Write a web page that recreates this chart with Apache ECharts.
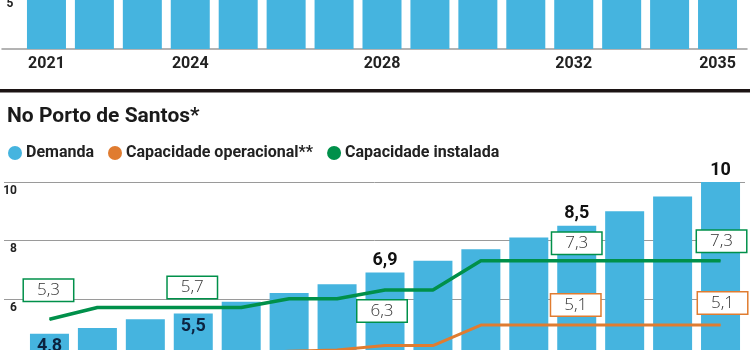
<!DOCTYPE html>
<html>
<head>
<meta charset="utf-8">
<script src="https://cdn.jsdelivr.net/npm/echarts@6/dist/echarts.min.js"></script>
<style>
  html, body { margin: 0; padding: 0; background: #fff; }
  #chart { width: 750px; height: 350px; }
</style>
</head>
<body>
<div id="chart"></div>
<script>
// dados (milhões de TEU)
const years = ['2021', '2022', '2023', '2024', '2025', '2026', '2027', '2028',
  '2029', '2030', '2031', '2032', '2033', '2034', '2035'];
const shownYears = ['2021', '2024', '2028', '2032', '2035'];

// painel de cima (só a base das barras aparece)
const upperDemand = [11.3, 11.9, 12.4, 13.1, 13.6, 14.3, 14.9, 15.4, 16.2, 16.8, 17.5, 18.3, 18.9, 19.7, 20.5];
const upperTicks = [0, 5];

// No Porto de Santos
const demand = [4.8, 5.0, 5.3, 5.5, 5.9, 6.2, 6.5, 6.9, 7.3, 7.7, 8.1, 8.5, 9.0, 9.5, 10];
const operational = [3.9, 4.0, 4.0, 4.1, 4.15, 4.2, 4.25, 4.4, 4.4, 5.1, 5.1, 5.1, 5.1, 5.1, 5.1];
const installed = [5.3, 5.7, 5.7, 5.7, 5.7, 6.0, 6.0, 6.3, 6.3, 7.3, 7.3, 7.3, 7.3, 7.3, 7.3];
const lowerTicks = [4, 6, 8, 10];

const demandLabelYears = ['2021', '2024', '2028', '2032', '2035'];
const installedLabelYears = ['2021', '2024', '2028', '2032', '2035'];
const operationalLabelYears = ['2032', '2035'];

// onde ficam as caixinhas (deslocamento em px a partir do ponto)
const installedLabelOffset = { '2021': [-1, -29], '2024': [-1, -20], '2028': [-3, 21], '2032': [0, -17.5], '2035': [1, -19.5] };
const operationalLabelOffset = { '2032': [-1, -20], '2035': [2, -22] };

const BLUE = '#45b4df';
const GREEN = '#00904a';
const ORANGE = '#e07c30';
const BOLD = 'Roboto, "Liberation Sans", sans-serif';

const fmt = v => String(v).replace('.', ',');

const chart = echarts.init(document.getElementById('chart'));

const barData = demand.map((v, i) => {
  const y = years[i];
  if (!demandLabelYears.includes(y)) return v;
  const inside = y === '2021' || y === '2024';
  return {
    value: v,
    label: {
      show: true,
      position: inside ? 'insideTop' : 'top',
      distance: inside ? 4 : 3,
      color: inside ? '#0c2340' : '#111',
      fontFamily: BOLD,
      fontWeight: 'bold',
      fontSize: 18,
      formatter: p => fmt(p.value)
    }
  };
});

function boxedLine(values, labelYears, offsets, color) {
  return values.map((v, i) => {
    const y = years[i];
    if (!labelYears.includes(y)) return v;
    return {
      value: v,
      label: {
        show: true,
        position: 'inside',
        offset: offsets[y],
        formatter: p => fmt(p.value),
        backgroundColor: '#fff',
        borderColor: color,
        borderWidth: 1.5,
        width: 49,
        height: 21,
        lineHeight: 21,
        align: 'center',
        verticalAlign: 'middle',
        color: '#333',
        fontFamily: '"Open Sans", "Noto Sans", sans-serif',
        fontWeight: 300,
        fontSize: 17
      }
    };
  });
}

chart.setOption({
  animation: false,
  title: {
    text: 'No Porto de Santos*',
    left: 2,
    top: 101,
    textStyle: { fontFamily: BOLD, fontWeight: 'bold', fontSize: 21, color: '#1a1a1a' }
  },
  legend: {
    left: 3,
    top: 140,
    icon: 'circle',
    itemWidth: 14,
    itemHeight: 14,
    itemGap: 14,
    textStyle: { fontFamily: BOLD, fontWeight: 'bold', fontSize: 16, color: '#222', padding: [0, 0, 0, -1] },
    data: ['Demanda', 'Capacidade operacional**', 'Capacidade instalada']
  },
  graphic: [{
    type: 'rect',
    shape: { x: 0, y: 89, width: 750, height: 3.5 },
    style: { fill: '#1c1414' }
  }],
  grid: [
    { left: 22.5, width: 719, top: -6.5, height: 55.5, outerBoundsMode: 'none' },   // barras de cima
    { left: 2, right: 3, top: -6.5, height: 55.5, outerBoundsMode: 'none' },        // linha de base de cima
    { left: 25.5, width: 719, top: 182, height: 175.2, outerBoundsMode: 'none' },   // barras de Santos
    { left: 4, right: 5, top: 182, height: 175.2, outerBoundsMode: 'none' }         // grade de Santos
  ],
  xAxis: [
    {
      gridIndex: 0, type: 'category', data: years,
      axisLine: { show: false }, axisTick: { show: false },
      axisLabel: {
        interval: (i, v) => shownYears.includes(v),
        margin: 7, color: '#222',
        fontFamily: BOLD, fontWeight: 'bold', fontSize: 16
      }
    },
    {
      gridIndex: 1, type: 'value', min: 0, max: 1,
      axisLine: { show: true, lineStyle: { color: '#9a9a9a', width: 1.5 } },
      axisTick: { show: false }, axisLabel: { show: false }, splitLine: { show: false }
    },
    {
      gridIndex: 2, type: 'category', data: years,
      axisLine: { show: false }, axisTick: { show: false }, axisLabel: { show: false }
    },
    {
      gridIndex: 3, type: 'value', min: 0, max: 1,
      axisLine: { show: false }, axisTick: { show: false }, axisLabel: { show: false }, splitLine: { show: false }
    }
  ],
  yAxis: [
    {
      gridIndex: 0, type: 'value', min: upperTicks[0], max: upperTicks[upperTicks.length - 1], interval: 5,
      axisLine: { show: false }, axisTick: { show: false }, splitLine: { show: false },
      axisLabel: {
        showMinLabel: false, margin: 9, align: 'right', verticalAlign: 'top',
        padding: [4, 0, 0, 0],
        color: '#222', fontFamily: BOLD, fontWeight: 'bold', fontSize: 12
      }
    },
    {
      gridIndex: 1, type: 'value', min: 0, max: 1,
      show: false
    },
    {
      gridIndex: 2, type: 'value', min: lowerTicks[0], max: lowerTicks[lowerTicks.length - 1], interval: 2,
      axisLine: { show: false }, axisTick: { show: false }, splitLine: { show: false },
      axisLabel: {
        showMinLabel: false, margin: 8.5, align: 'right', verticalAlign: 'top',
        padding: [3, 0, 0, 0],
        color: '#222', fontFamily: BOLD, fontWeight: 'bold', fontSize: 12
      }
    },
    {
      gridIndex: 3, type: 'value', min: lowerTicks[0], max: lowerTicks[lowerTicks.length - 1], interval: 2,
      axisLine: { show: false }, axisTick: { show: false }, axisLabel: { show: false },
      splitLine: { show: true, lineStyle: { color: '#9a9a9a', width: 1 } }
    }
  ],
  series: [
    {
      name: 'Demanda (Brasil)', type: 'bar', xAxisIndex: 0, yAxisIndex: 0,
      data: upperDemand, barWidth: 39, clip: true,
      itemStyle: { color: BLUE }
    },
    {
      name: 'Demanda', type: 'bar', xAxisIndex: 2, yAxisIndex: 2,
      data: barData, barWidth: 39, z: 2,
      itemStyle: { color: BLUE }
    },
    {
      name: 'Capacidade operacional**', type: 'line', xAxisIndex: 2, yAxisIndex: 2,
      data: boxedLine(operational, operationalLabelYears, operationalLabelOffset, ORANGE),
      symbol: 'circle', symbolSize: 1, z: 4,
      itemStyle: { color: ORANGE },
      lineStyle: { color: ORANGE, width: 3 }
    },
    {
      name: 'Capacidade instalada', type: 'line', xAxisIndex: 2, yAxisIndex: 2,
      data: boxedLine(installed, installedLabelYears, installedLabelOffset, GREEN),
      symbol: 'circle', symbolSize: 1, z: 5,
      itemStyle: { color: GREEN },
      lineStyle: { color: GREEN, width: 3.5 }
    }
  ]
});
</script>
</body>
</html>
